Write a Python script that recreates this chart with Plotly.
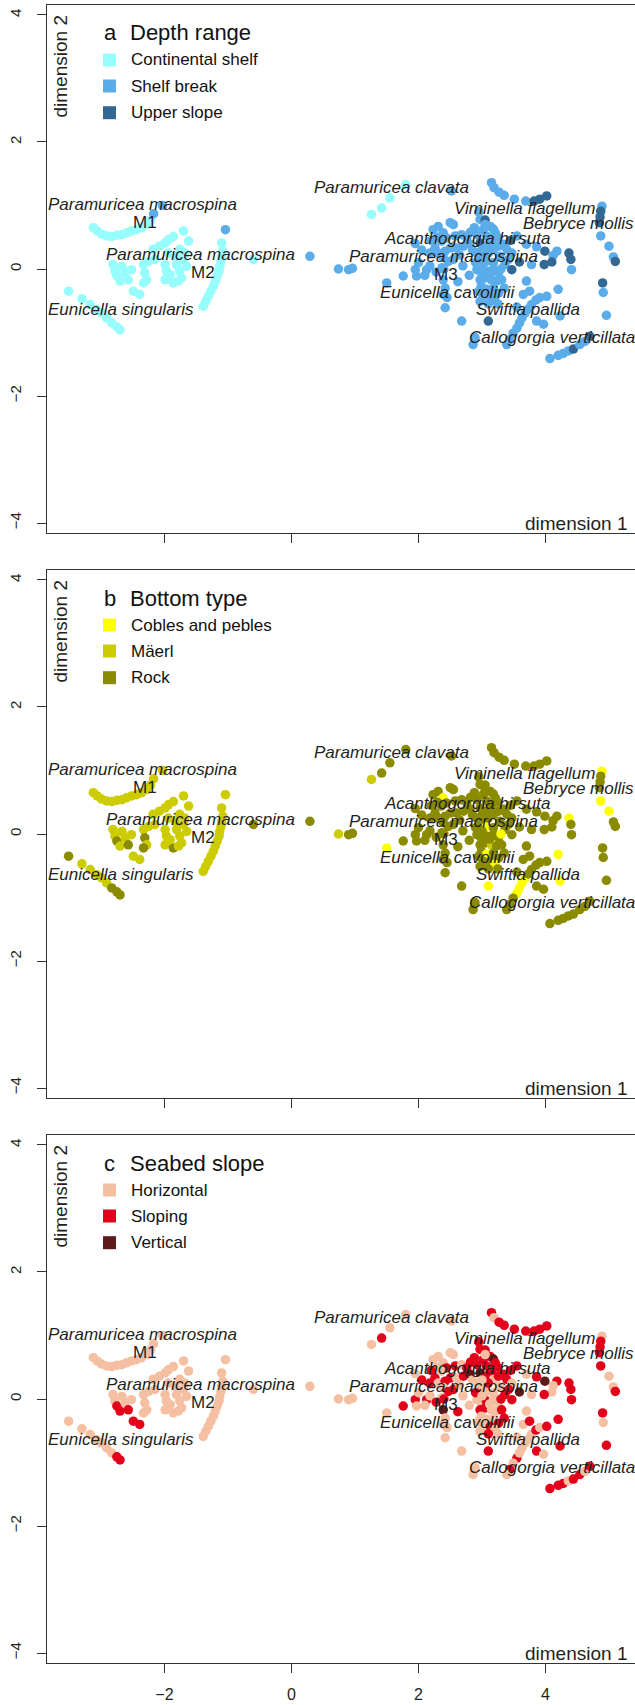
import plotly.graph_objects as go

# ---------------- data (dimension 1 / dimension 2 scores) ----------------
# category codes: depth c=Continental shelf, s=Shelf break, u=Upper slope
#                 bottom p=Cobles and pebles, m=Mäerl, r=Rock
#                 slope h=Horizontal, s=Sloping, v=Vertical

# M1 arc
L1_X = [-3.12, -3.06, -2.99, -2.91, -2.83, -2.75, -2.67, -2.60, -2.52, -2.44, -2.36, -2.28, -2.22, -2.17, -2.03]
L1_Y = [0.65, 0.60, 0.55, 0.52, 0.51, 0.53, 0.54, 0.57, 0.60, 0.62, 0.65, 0.70, 0.77, 0.87, 1.00]
L1_D = "cccccccccccccss"
L1_B = "mmmmmmmmmmmmmmm"
L1_S = "hhhhhhhhhhhhhhh"

# M2 blob
L2_X = [-2.18, -2.08, -1.99, -1.94, -1.86, -1.70, -1.62, -1.76,
        -2.81, -2.78, -2.75, -2.67, -2.62, -2.70, -2.57, -2.52, -2.33, -2.25,
        -2.15, -2.31, -2.28, -2.33, -2.49, -2.39, -1.99, -1.97, -1.99, -1.86,
        -1.91, -1.81, -1.76, -1.73, -1.70, -1.83, -1.94, -1.68, -1.65, -1.78]
L2_Y = [0.31, 0.36, 0.41, 0.46, 0.51, 0.60, 0.44, 0.31,
        0.07, -0.03, -0.11, 0.04, -0.06, -0.19, -0.17, -0.01, 0.07, 0.12,
        0.15, -0.06, -0.17, -0.22, -0.35, -0.40, 0.07, -0.03, -0.17, -0.22,
        -0.09, 0.07, -0.03, -0.14, 0.15, 0.20, 0.25, 0.25, 0.04, -0.19]
L2_D = "c" * 38
L2_B = "mmmmmmmm" + "mmrmmmrmmm" + "mrmrmmmmmr" + "mmmmmmmmmm"
L2_S = "hhhhhhhh" + "hhshhsshhh" + "hhhhsshhhh" + "hhhhhhhhhh"

# arc right of M2
L3_X = [-1.39, -1.35, -1.31, -1.27, -1.23, -1.20, -1.17, -1.14, -1.13, -1.11, -1.10, -1.08, -1.10]
L3_Y = [-0.59, -0.51, -0.43, -0.35, -0.27, -0.19, -0.11, -0.03, 0.04, 0.12, 0.20, 0.28, 0.41]
L3_D = "c" * 13
L3_B = "m" * 13
L3_S = "h" * 13

# Eunicella singularis arc
L4_X = [-3.51, -3.30, -3.17, -3.07, -2.99, -2.91, -2.83, -2.75, -2.70]
L4_Y = [-0.35, -0.47, -0.56, -0.64, -0.69, -0.77, -0.85, -0.91, -0.96]
L4_D = "ccccccccc"
L4_B = "rmmmmmrrr"
L4_S = "hhhhhhhss"

# isolated samples between clusters
L5_X = [-1.04, -0.60, 0.29]
L5_Y = [0.62, 0.15, 0.20]
L5_D = "scs"
L5_B = "mrr"
L5_S = "hhh"

# far left of right cluster + Paramuricea clavata
R1_X = [0.74, 0.90, 0.96, 1.80, 1.55, 1.42, 1.26, 2.52]
R1_Y = [0.00, -0.01, 0.01, 1.33, 1.12, 0.96, 0.86, 1.23]
R1_D = "sssccccs"
R1_B = "mrrrrrmr"
R1_S = "hhhhhshh"

# left part of M3 mass
R2_X = [1.50, 1.76, 1.95, 2.00, 2.13, 1.97, 2.10, 2.18, 2.26, 2.31,
        2.23, 2.31, 2.39, 2.50, 2.55, 2.44, 2.58, 2.68, 2.76, 2.36,
        2.42, 2.50, 2.60, 2.71, 2.81, 2.39, 2.47, 2.37, 2.39, 2.42,
        2.39, 2.42, 2.68, 2.86]
R2_Y = [-0.22, -0.11, -0.01, 0.10, -0.01, -0.11, -0.10, 0.25, 0.33, 0.25,
        0.62, 0.67, 0.57, 0.73, 0.70, 0.49, 0.52, 0.54, 0.49, 0.44,
        0.28, 0.33, 0.33, 0.36, 0.39, 0.18, 0.12, 0.02, -0.17, -0.30,
        -0.40, -0.61, -0.82, -1.19]
R2_D = "s" * 34
R2_B = "prrrrrrrrr" + "rrprrrrrrr" + "rrrrrrrrrr" + "rrrr"
R2_S = "hsshshhssh" + "hhhhhsshsh" + "sshsvhshvh" + "hhhh"

# central dense mass
R3_X = [2.97, 3.05, 3.13, 3.18, 3.21, 3.02, 2.92, 3.07, 2.97, 3.07,
        3.18, 3.26, 3.34, 3.39, 3.47, 3.28, 2.92, 2.99, 3.07, 3.18,
        3.42, 3.36, 2.92, 2.99, 3.07, 3.18, 3.26, 2.97, 3.05, 3.15,
        3.23, 3.31, 2.99, 3.07, 3.18, 3.26, 3.02, 3.13, 3.20, 2.97,
        3.10, 3.55, 3.70]
R3_Y = [0.78, 0.77, 0.67, 0.63, 0.57, 0.62, 0.54, 0.52, 0.41, 0.36,
        0.31, 0.36, 0.39, 0.31, 0.25, 0.20, 0.25, 0.18, 0.12, 0.10,
        0.15, 0.07, -0.01, -0.06, -0.03, -0.01, -0.06, -0.17, -0.14, -0.17,
        -0.19, -0.17, -0.27, -0.32, -0.30, -0.38, -0.43, -0.43, -0.48, -0.51,
        -0.82, 0.52, 0.39]
R3_D = "sussssssus" + "ssssssssss" + "ssssssssss" + "ssssssssss" + "uss"
R3_B = "rrrrrrrrrr" + "rrrrrrrrpr" + "rrrrrrrrrm" + "rrrprrrrpr" + "prr"
R3_S = "sssvssssvs" + "hssshhhhhh" + "sshhshhssh" + "hshhhshshh" + "ssh"

# extra samples filling the M3 mass
R9_X = [2.85, 2.90, 3.00, 3.10, 3.15, 3.25, 3.30, 3.12, 2.95, 3.10,
        3.25, 3.35, 3.05, 2.88, 2.95, 2.40, 2.45, 2.30, 2.20, 2.55,
        2.65, 2.05, 1.95, 2.70, 2.80, 2.62, 3.65, 3.55, 3.75, 2.18,
        2.28, 3.45, 3.00, 2.82]
R9_Y = [0.30, 0.10, 0.05, 0.25, 0.45, 0.50, 0.00, -0.08, -0.35, -0.55,
        -0.55, -0.30, 0.70, 0.65, 0.90, 0.00, -0.45, 0.50, 0.45, 0.15,
        0.22, 0.30, 0.40, 0.05, -0.10, -0.20, -0.40, -0.60, -0.35, 0.05,
        -0.05, 0.45, 0.30, 0.58]
R9_D = "ssssssssss" + "ssssssssss" + "ssssssssss" + "suss"
R9_B = "rrrrrrprrr" + "rrrrrrrrrr" + "rrrrrrrrrr" + "rrrr"
R9_S = "hshsssshhs" + "hshssshhss" + "hshhhshhsh" + "sshs"

# Swiftia pallida diagonal
R4_X = [3.55, 3.59, 3.63, 3.68, 3.73, 3.78, 3.85, 3.91, 4.02, 4.20,
        4.23, 3.86, 3.97, 3.49, 3.44, 3.39, 2.89]
R4_Y = [-0.93, -0.85, -0.77, -0.69, -0.63, -0.56, -0.49, -0.45, -0.43, -0.32,
        -0.74, -0.82, -0.87, -1.01, -1.11, -1.19, -1.08]
R4_D = "s" * 17
R4_B = "pppprrrrrp" + "prrrrrr"
R4_S = "shhhhhshss" + "sshhshh"

# Callogorgia verticillata arc
R5_X = [4.07, 4.20, 4.28, 4.36, 4.44, 4.54, 4.62, 4.70]
R5_Y = [-1.41, -1.36, -1.33, -1.29, -1.26, -1.19, -1.14, -1.06]
R5_D = "ssssussu"
R5_B = "rrrrrrrr"
R5_S = "ssshsshs"

# group right of centre
R6_X = [4.37, 4.40, 4.41, 4.18, 4.12, 3.99, 4.10, 3.98, 3.86, 3.78, 3.70, 3.47, 3.59]
R6_Y = [0.25, 0.15, -0.01, 0.28, 0.21, 0.28, 0.11, 0.07, 0.35, 0.07, -0.19, -0.01, 0.11]
R6_D = "uusssuuusssuu"
R6_B = "prrrrrrrrrrrr"
R6_S = "sssshvhsshhsv"

# Viminella flagellum arc
R7_X = [3.15, 3.19, 3.27, 3.35, 3.51, 3.69, 3.82, 3.91, 4.02]
R7_Y = [1.36, 1.28, 1.21, 1.16, 1.10, 1.07, 1.07, 1.10, 1.15]
R7_D = "ssssssuuu"
R7_B = "rrrrrrrrr"
R7_S = "shsssssss"

# Bebryce mollis column
R8_X = [4.89, 4.87, 4.86, 4.85, 4.87, 5.00, 5.07, 5.10, 4.90, 4.91, 4.96]
R8_Y = [0.99, 0.91, 0.82, 0.73, 0.52, 0.36, 0.19, 0.12, -0.22, -0.37, -0.73]
R8_D = "suuusssuuss"
R8_B = "prrrpprrrrr"
R8_S = "hsssshhsshs"

SEGMENTS = [
    (L1_X, L1_Y, L1_D, L1_B, L1_S), (L2_X, L2_Y, L2_D, L2_B, L2_S),
    (L3_X, L3_Y, L3_D, L3_B, L3_S), (L4_X, L4_Y, L4_D, L4_B, L4_S),
    (L5_X, L5_Y, L5_D, L5_B, L5_S), (R1_X, R1_Y, R1_D, R1_B, R1_S),
    (R2_X, R2_Y, R2_D, R2_B, R2_S), (R3_X, R3_Y, R3_D, R3_B, R3_S),
    (R9_X, R9_Y, R9_D, R9_B, R9_S),
    (R4_X, R4_Y, R4_D, R4_B, R4_S), (R5_X, R5_Y, R5_D, R5_B, R5_S),
    (R6_X, R6_Y, R6_D, R6_B, R6_S), (R7_X, R7_Y, R7_D, R7_B, R7_S),
    (R8_X, R8_Y, R8_D, R8_B, R8_S),
]
X, Y, DEPTH, BOTTOM, SLOPE = [], [], "", "", ""
for sx, sy, sd, sb, ss in SEGMENTS:
    assert len(sx) == len(sy) == len(sd) == len(sb) == len(ss), (len(sx), len(sy), len(sd), len(sb), len(ss))
    X += sx; Y += sy; DEPTH += sd; BOTTOM += sb; SLOPE += ss

# species labels
SPECIES = ["Paramuricea macrospina", "Paramuricea macrospina", "Eunicella singularis",
           "Paramuricea clavata", "Viminella flagellum", "Bebryce mollis",
           "Acanthogorgia hirsuta", "Paramuricea macrospina", "Eunicella cavolinii",
           "Swiftia pallida", "Callogorgia verticillata"]
SPECIES_X = [-2.34, -1.43, -2.68, 1.57, 3.67, 4.52, 2.77, 2.40, 2.46, 3.72, 4.10]
SPECIES_Y = [1.02, 0.23, -0.63, 1.29, 0.96, 0.72, 0.48, 0.20, -0.37, -0.63, -1.08]
MORPHS = ["M1", "M2", "M3"]
MORPHS_X = [-2.31, -1.40, 2.44]
MORPHS_Y = [0.74, -0.06, -0.09]

PANELS = [
    ("a", "Depth range", DEPTH, "csu", ["Continental shelf", "Shelf break", "Upper slope"],
     ["#96FCFC", "#5AACEA", "#336895"]),
    ("b", "Bottom type", BOTTOM, "pmr", ["Cobles and pebles", "Mäerl", "Rock"],
     ["#FFFF00", "#CCCC00", "#8B8B00"]),
    ("c", "Seabed slope", SLOPE, "hsv", ["Horizontal", "Sloping", "Vertical"],
     ["#F5BFA2", "#E3001B", "#5C1A1A"]),
]

XTICKS = [-2, 0, 2, 4]
YTICKS = [-4, -2, 0, 2, 4]

# ---------------- figure ----------------
W, H = 635, 1705
ML, MR, MT, MB = 47, 0, 5, 42
PH = H - MT - MB  # plot height in px
panel_px = [(5, 533), (570, 1098), (1135, 1663)]
FONT = "Liberation Sans, Arial, Helvetica, sans-serif"
TXT = "#231F20"
AX = "#333333"

fig = go.Figure()
annotations, shapes = [], []
for i, (letter, title, codes, order, labels, colors) in enumerate(PANELS):
    sfx = "" if i == 0 else str(i + 1)
    cmap = {k: c for k, c in zip(order, colors)}
    fig.add_trace(go.Scatter(
        x=X, y=Y, mode="markers", xaxis="x" + sfx, yaxis="y" + sfx,
        marker=dict(size=9.5, color=[cmap[k] for k in codes], line=dict(width=0)),
        hoverinfo="skip", showlegend=False, cliponaxis=True))
    top, bot = panel_px[i]
    dom = [1 - (bot - MT) / PH, 1 - (top - MT) / PH]
    fig.update_layout(**{
        "xaxis" + sfx: dict(domain=[0, 1], anchor="y" + sfx, range=[-3.85, 5.41],
                            tickvals=XTICKS, ticks="outside", ticklen=9, tickcolor=AX,
                            showticklabels=(i == 2), showline=True, mirror=True,
                            linecolor=AX, linewidth=1, showgrid=False, zeroline=False,
                            tickfont=dict(family=FONT, size=16, color=TXT),
                            ticklabelstandoff=8),
        "yaxis" + sfx: dict(domain=dom, anchor="x" + sfx, range=[-4.157, 4.157],
                            tickvals=YTICKS, ticks="outside", ticklen=9, tickcolor=AX,
                            tickangle=-90, showline=True, linecolor=AX, linewidth=1,
                            showgrid=False, zeroline=False,
                            tickfont=dict(family=FONT, size=15, color=TXT),
                            ticklabelstandoff=10),
    })
    xr, yr = "x" + sfx, "y" + sfx
    xd, yd = xr + " domain", yr + " domain"
    ph = bot - top

    def dy(px):
        return 1 - px / ph

    def dx(px):
        return (px - ML) / (W - ML)

    # species labels
    for name, sx, sy in zip(SPECIES, SPECIES_X, SPECIES_Y):
        annotations.append(dict(x=sx, y=sy, xref=xr, yref=yr, text="<i>" + name + "</i>",
                                xanchor="center", yanchor="middle",
                                showarrow=False, font=dict(family=FONT, size=17, color=TXT)))
    for name, sx, sy in zip(MORPHS, MORPHS_X, MORPHS_Y):
        annotations.append(dict(x=sx, y=sy, xref=xr, yref=yr, text=name,
                                xanchor="center", yanchor="middle",
                                showarrow=False, font=dict(family=FONT, size=17, color=TXT)))
    # axis titles inside plot
    annotations.append(dict(x=dx(60), y=dy(61.5), xref=xd, yref=yd,
                            text="dimension 2", textangle=-90, showarrow=False,
                            xanchor="center", yanchor="middle",
                            font=dict(family=FONT, size=19, color=TXT)))
    annotations.append(dict(x=dx(629), y=-4, xref=xd, yref=yr,
                            text="dimension 1", xanchor="right", yanchor="middle",
                            showarrow=False, font=dict(family=FONT, size=19, color=TXT)))
    # legend title
    annotations.append(dict(x=dx(102), y=dy(28), xref=xd, yref=yd,
                            text=letter, xanchor="left", yanchor="middle", showarrow=False,
                            font=dict(family=FONT, size=22, color="#111111")))
    annotations.append(dict(x=dx(128), y=dy(28), xref=xd, yref=yd,
                            text=title, xanchor="left", yanchor="middle", showarrow=False,
                            font=dict(family=FONT, size=22, color="#111111")))
    for j, (lab, col) in enumerate(zip(labels, colors)):
        cy = [55, 81, 107.7][j]
        shapes.append(dict(type="rect", xref=xd, yref=yd,
                           x0=dx(103), x1=dx(116),
                           y0=dy(cy + 6.5), y1=dy(cy - 6.5), fillcolor=col, line=dict(width=0)))
        annotations.append(dict(x=dx(129), y=dy(cy), xref=xd, yref=yd,
                                text=lab, xanchor="left", yanchor="middle", showarrow=False,
                                font=dict(family=FONT, size=17, color="#111111")))

fig.update_layout(
    width=W, height=H, margin=dict(l=ML, r=MR, t=MT, b=MB, pad=0),
    paper_bgcolor="white", plot_bgcolor="white",
    annotations=annotations, shapes=shapes, showlegend=False,
)
fig.write_html("out.html")
